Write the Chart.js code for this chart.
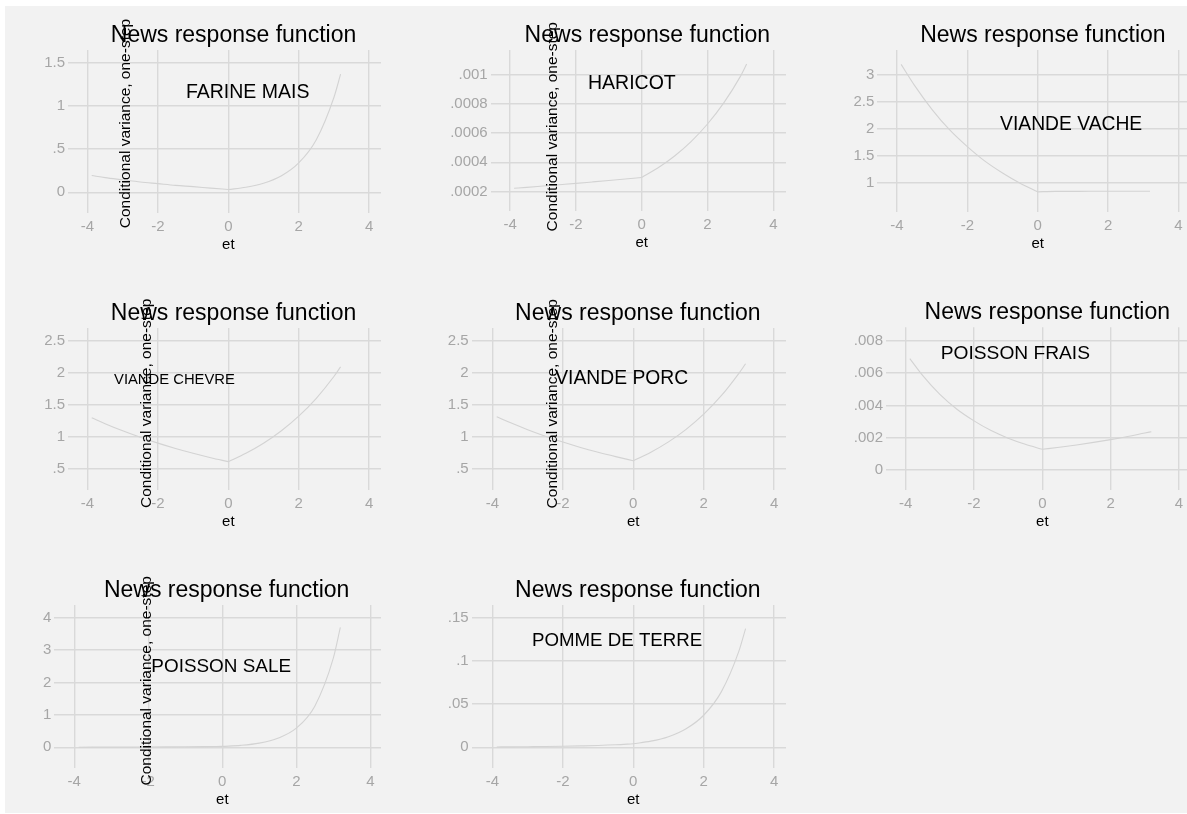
<!DOCTYPE html>
<html>
<head>
<meta charset="utf-8">
<script src="https://cdn.jsdelivr.net/npm/chart.js@4/dist/chart.umd.min.js"></script>
<style>
  html, body { margin: 0; padding: 0; background: #ffffff; }
  #page { position: relative; width: 1187px; height: 814px; overflow: hidden; background: #ffffff; }
  #plotBg { position: absolute; left: 5px; top: 6px; width: 1182px; height: 807px; background: #f2f2f2; }
  #page canvas { position: absolute; left: 0; top: 0; }
</style>
</head>
<body>
<div id="page"><div id="plotBg"></div></div>
<script>
// Standardised shock e_t at which the news response is evaluated
const et = [-3.88, -3.5, -3, -2.5, -2, -1.5, -1, -0.5, 0, 0.5, 1, 1.5, 2, 2.5, 3, 3.19];

// One-step conditional variance per commodity
const farineMais   = [0.195, 0.17, 0.145, 0.12, 0.10, 0.08, 0.065, 0.048, 0.032, 0.058, 0.104, 0.188, 0.34, 0.61, 1.10, 1.37];
const haricot      = [0.000222, 0.000228, 0.000237, 0.000246, 0.000255, 0.000265, 0.000275, 0.000285, 0.000296, 0.000362, 0.000443, 0.000542, 0.000663, 0.000810, 0.000990, 0.001075];
const viandeVache  = [3.20, 2.81, 2.36, 1.98, 1.67, 1.40, 1.18, 0.99, 0.83, 0.838, 0.839, 0.84, 0.84, 0.84, 0.84, 0.84];
const viandeChevre = [1.295, 1.203, 1.091, 0.99, 0.899, 0.816, 0.741, 0.672, 0.61, 0.74, 0.897, 1.088, 1.32, 1.60, 1.94, 2.09];
const viandePorc   = [1.31, 1.22, 1.109, 1.008, 0.916, 0.832, 0.756, 0.688, 0.625, 0.758, 0.919, 1.115, 1.352, 1.64, 1.99, 2.14];
const poissonFrais = [0.0069, 0.00584, 0.00468, 0.00376, 0.00304, 0.00244, 0.00197, 0.00159, 0.00128, 0.00141, 0.00155, 0.00171, 0.00188, 0.00207, 0.00229, 0.00237];
const poissonSale  = [0.003, 0.004, 0.005, 0.007, 0.009, 0.012, 0.016, 0.021, 0.028, 0.06, 0.13, 0.28, 0.59, 1.27, 2.75, 3.70];
const pommeDeTerre = [0.0004, 0.0005, 0.0007, 0.0009, 0.0012, 0.0016, 0.0021, 0.0029, 0.0041, 0.0071, 0.0123, 0.0214, 0.037, 0.064, 0.111, 0.137];

// Commodity names shown inside each panel
const commodities = ['FARINE MAIS', 'HARICOT', 'VIANDE VACHE', 'VIANDE CHEVRE', 'VIANDE PORC', 'POISSON FRAIS', 'POISSON SALE', 'POMME DE TERRE'];
const seriesList = [farineMais, haricot, viandeVache, viandeChevre, viandePorc, poissonFrais, poissonSale, pommeDeTerre];

// Tick labels
const xTickLabels = ['-4', '-2', '0', '2', '4'];
const yTickLabels = [
  ['0', '.5', '1', '1.5'],
  ['.0002', '.0004', '.0006', '.0008', '.001'],
  ['1', '1.5', '2', '2.5', '3'],
  ['.5', '1', '1.5', '2', '2.5'],
  ['.5', '1', '1.5', '2', '2.5'],
  ['0', '.002', '.004', '.006', '.008'],
  ['0', '1', '2', '3', '4'],
  ['0', '.05', '.1', '.15']
];

// Label anchor in data units [e_t, variance]
const labelAnchors = [
  [0.55, 1.16], [-0.30, 0.000941], [0.95, 2.08], [-1.53, 1.88],
  [-0.33, 1.905], [-0.79, 0.00723], [-0.03, 2.47], [-0.46, 0.123]
];

const chartTitle = 'News response function';
const xTitle = 'et';
const yTitle = 'Conditional variance, one-step';

// Panel geometry (page pixels) and axis ranges
const layout = [
  { area: [68, 50, 381, 213.3],      x: [-4.554, 4.338], y: [-0.244, 1.651],        labelSize: 19.5, yTitleAt: [125.5, 123.5] },
  { area: [490.7, 50, 786, 211],     x: [-4.59, 4.386],  y: [0.0000655, 0.001171],  labelSize: 19.5, yTitleAt: [552.5, 126.7] },
  { area: [877.3, 50, 1190.5, 212],  x: [-4.557, 4.34],  y: [0.455, 3.467],         labelSize: 19.3, yTitleAt: null },
  { area: [68, 328, 381, 490],       x: [-4.554, 4.338], y: [0.167, 2.698],         labelSize: 14.8, yTitleAt: [147, 403.3] },
  { area: [471.7, 328, 786, 490],    x: [-4.59, 4.338],  y: [0.167, 2.698],         labelSize: 19.3, yTitleAt: [552.5, 403.7] },
  { area: [886, 327.3, 1190.6, 490], x: [-4.577, 4.34],  y: [-0.00124, 0.008836],   labelSize: 19.2, yTitleAt: null },
  { area: [54.3, 605, 381, 768.3],   x: [-4.54, 4.289],  y: [-0.648, 4.392],        labelSize: 18.9, yTitleAt: [147, 680.8] },
  { area: [471.7, 605, 786, 768.3],  x: [-4.59, 4.338],  y: [-0.02425, 0.1643],     labelSize: 18.7, yTitleAt: null }
];

const FONT = '"Liberation Sans", Arial, Helvetica, sans-serif';
const CANVAS_W = 1200, CANVAS_H = 820;
const Y_AXIS_W = 50, X_AXIS_H = 50;

// Draws panel title, commodity label, axis titles
const panelText = {
  id: 'panelText',
  afterDraw(chart, args, opts) {
    const { ctx, chartArea: a } = chart;
    const xs = chart.scales.x, ys = chart.scales.y;
    ctx.save();
    ctx.fillStyle = '#000000';
    ctx.textAlign = 'center';

    ctx.textBaseline = 'alphabetic';
    ctx.font = '23px ' + FONT;
    ctx.fillText(chartTitle, (a.left + a.right) / 2 + 9, a.top - 8);

    ctx.font = '15px ' + FONT;
    ctx.fillText(xTitle, xs.getPixelForValue(0), a.bottom + 36);

    ctx.textBaseline = 'middle';
    ctx.font = opts.labelSize + 'px ' + FONT;
    ctx.fillText(opts.label, xs.getPixelForValue(opts.anchor[0]), ys.getPixelForValue(opts.anchor[1]));

    if (opts.yTitleAt) {
      ctx.translate(opts.yTitleAt[0], opts.yTitleAt[1]);
      ctx.rotate(-Math.PI / 2);
      ctx.font = '15.5px ' + FONT;
      ctx.fillText(yTitle, 0, 0);
    }
    ctx.restore();
  }
};

const page = document.getElementById('page');
const xTickValues = xTickLabels.map(Number);

seriesList.forEach((values, i) => {
  const L = layout[i];
  const [left, top, right, bottom] = L.area;
  const yLabels = yTickLabels[i];
  const yValues = yLabels.map(Number);

  const canvas = document.createElement('canvas');
  canvas.width = CANVAS_W;
  canvas.height = CANVAS_H;
  canvas.style.width = CANVAS_W + 'px';
  canvas.style.height = CANVAS_H + 'px';
  page.appendChild(canvas);

  const points = et.map((x, k) => ({ x, y: values[k] }));
  const leftBranch = points.filter(p => p.x <= 0);
  const rightBranch = points.filter(p => p.x >= 0);
  const lineStyle = {
    borderColor: '#d3d3d3',
    borderWidth: 1.1,
    pointRadius: 0,
    fill: false,
    cubicInterpolationMode: 'monotone'
  };

  new Chart(canvas, {
    type: 'line',
    data: {
      datasets: [
        Object.assign({ data: leftBranch }, lineStyle),
        Object.assign({ data: rightBranch }, lineStyle)
      ]
    },
    options: {
      responsive: false,
      animation: false,
      devicePixelRatio: 1,
      events: [],
      layout: {
        padding: {
          left: left - Y_AXIS_W,
          top: top,
          right: CANVAS_W - right,
          bottom: CANVAS_H - bottom - X_AXIS_H
        }
      },
      plugins: {
        legend: { display: false },
        title: { display: false },
        tooltip: { enabled: false },
        panelText: { label: commodities[i], anchor: labelAnchors[i], labelSize: L.labelSize, yTitleAt: L.yTitleAt }
      },
      scales: {
        x: {
          type: 'linear',
          min: L.x[0],
          max: L.x[1],
          afterBuildTicks: s => { s.ticks = xTickValues.map(v => ({ value: v })); },
          afterFit: s => { s.height = X_AXIS_H; },
          grid: { color: '#d9d9d9', lineWidth: 1.4, drawTicks: false },
          border: { display: false },
          ticks: {
            padding: 5,
            autoSkip: false,
            maxRotation: 0,
            color: '#a6a6a6',
            font: { family: FONT, size: 15 },
            callback: (v, k) => xTickLabels[k]
          }
        },
        y: {
          type: 'linear',
          min: L.y[0],
          max: L.y[1],
          afterBuildTicks: s => { s.ticks = yValues.map(v => ({ value: v })); },
          afterFit: s => { s.width = Y_AXIS_W; },
          grid: { color: '#d9d9d9', lineWidth: 1.4, drawTicks: false },
          border: { display: false },
          ticks: {
            padding: 3,
            autoSkip: false,
            color: '#a6a6a6',
            font: { family: FONT, size: 15 },
            callback: (v, k) => yLabels[k]
          }
        }
      }
    },
    plugins: [panelText]
  });
});
</script>
</body>
</html>
